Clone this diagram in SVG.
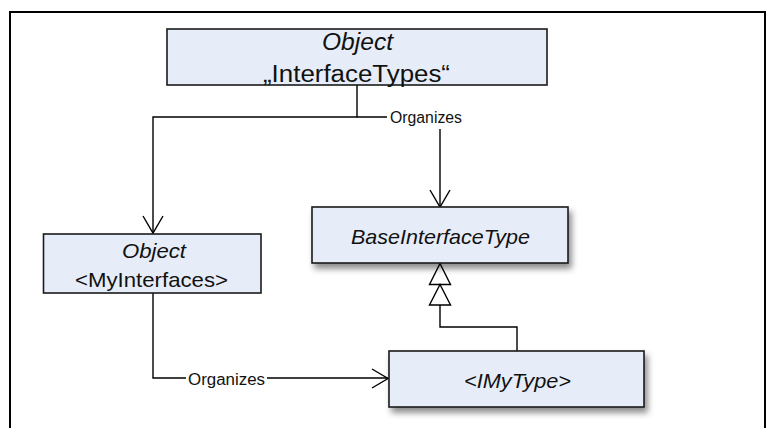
<svg xmlns="http://www.w3.org/2000/svg" width="770" height="428" viewBox="0 0 770 428">
<style>
.box{fill:#E7EDF8;stroke:#1a1a1a;stroke-width:1.6}
.t{font-family:"Liberation Sans",Arial,sans-serif;fill:#111;text-anchor:middle}
.i{font-style:italic}
.ln{fill:none;stroke:#000;stroke-width:1.4}
.lbl{font-family:"Liberation Sans",Arial,sans-serif;font-size:16px;fill:#111;text-anchor:middle}
</style>
<defs>
<filter id="sh" x="-10%" y="-20%" width="130%" height="160%">
<feDropShadow dx="3" dy="5" stdDeviation="3" flood-color="#000" flood-opacity="0.45"/>
</filter>
</defs>
<rect width="770" height="428" fill="#fff"/>
<path d="M10,428 V12 H765 V428" fill="none" stroke="#000" stroke-width="2"/>

<g id="connectors">
<path class="ln" d="M357,85 V117 H153 V233"/>
<path class="ln" d="M357,117 H440 V207"/>
<path class="ln" d="M143,216 L153,233 L163,216"/>
<path class="ln" d="M430,190 L440,207 L450,190"/>
<rect x="387" y="107" width="78" height="22" fill="#fff"/>
<text class="lbl" x="426" y="123" textLength="72" lengthAdjust="spacingAndGlyphs">Organizes</text>

<path class="ln" d="M153,293 V378 H388"/>
<path class="ln" d="M372,369 L388,378.5 L372,388"/>
<rect x="186" y="369" width="81" height="19" fill="#fff"/>
<text class="lbl" x="226.5" y="384.5" textLength="77" lengthAdjust="spacingAndGlyphs">Organizes</text>

<path class="ln" d="M517,351 V327 H440 V305"/>
<path class="ln" d="M440,263.5 L450.5,284.5 L429.5,284.5 Z" fill="#fff"/>
<path class="ln" d="M440,284.5 L450.5,305 L429.5,305 Z" fill="#fff"/>
</g>

<g id="node-interfacetypes">
<rect class="box" x="167" y="29" width="380" height="56"/>
<text class="t i" x="357.5" y="49.5" font-size="23.5" textLength="71" lengthAdjust="spacingAndGlyphs">Object</text>
<text class="t" x="356.5" y="82" font-size="23.5" textLength="187" lengthAdjust="spacingAndGlyphs">„InterfaceTypes“</text>
</g>

<g id="node-myinterfaces">
<rect class="box" x="43.5" y="234" width="217.5" height="59"/>
<text class="t i" x="154" y="258" font-size="21" textLength="64" lengthAdjust="spacingAndGlyphs">Object</text>
<text class="t" x="151.5" y="286.5" font-size="21" textLength="153" lengthAdjust="spacingAndGlyphs">&lt;MyInterfaces&gt;</text>
</g>

<g id="node-baseinterfacetype">
<rect class="box" x="312" y="207" width="256" height="56" filter="url(#sh)"/>
<text class="t i" x="440.5" y="243.5" font-size="21" textLength="179" lengthAdjust="spacingAndGlyphs">BaseInterfaceType</text>
</g>

<g id="node-imytype">
<rect class="box" x="389" y="351" width="255" height="56" filter="url(#sh)"/>
<text class="t i" x="517.5" y="387.5" font-size="21" textLength="107" lengthAdjust="spacingAndGlyphs">&lt;IMyType&gt;</text>
</g>
</svg>
